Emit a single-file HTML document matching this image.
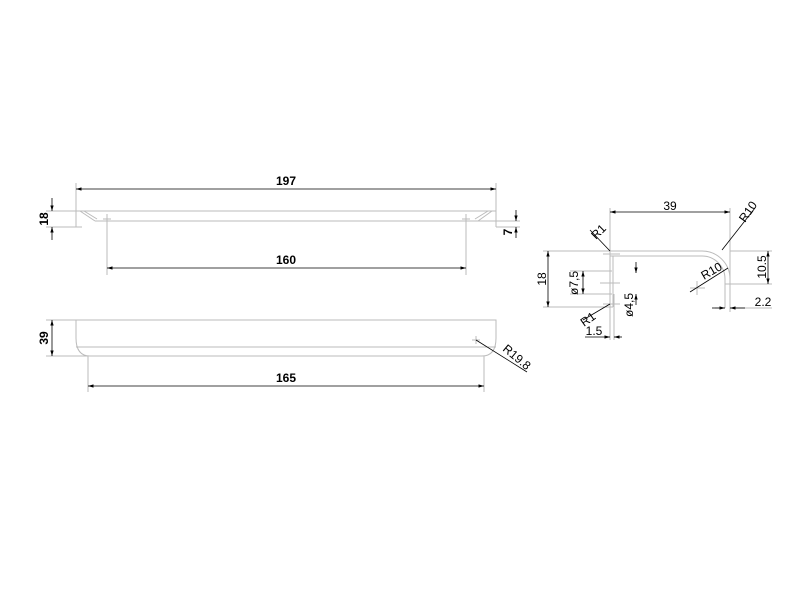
<!DOCTYPE html>
<html><head><style>body{margin:0;background:#fff}svg{display:block}text{font-family:"Liberation Sans",sans-serif;font-size:12px;fill:#000;font-weight:bold}</style></head><body>
<svg width="800" height="600" viewBox="0 0 800 600" xmlns="http://www.w3.org/2000/svg">
<defs><marker id="a" viewBox="0 0 10 10" refX="10" refY="5" markerWidth="7" markerHeight="7" orient="auto-start-reverse"><path d="M0,2 L10,5 L0,8z" fill="#000"/></marker></defs>
<g stroke="#bbb" stroke-width="1" fill="none">
<!-- top view -->
<line x1="76" y1="211" x2="496" y2="211"/>
<line x1="95" y1="221" x2="480" y2="221"/>
<line x1="76" y1="227" x2="82" y2="227"/>
<line x1="496" y1="227" x2="520" y2="227"/>
<line x1="480" y1="221" x2="520" y2="221"/>
<line x1="80" y1="211" x2="95" y2="221"/><line x1="84" y1="211" x2="97" y2="219"/>
<line x1="492" y1="211" x2="478" y2="221"/><line x1="488" y1="211" x2="475" y2="219"/>
<line x1="76" y1="183" x2="76" y2="227"/><line x1="496" y1="183" x2="496" y2="227"/>
<line x1="107" y1="214" x2="107" y2="275"/><line x1="466" y1="214" x2="466" y2="275"/>
<line x1="103" y1="219" x2="111" y2="219"/><line x1="462" y1="219" x2="470" y2="219"/>
<line x1="46" y1="211" x2="76" y2="211"/><line x1="46" y1="227" x2="76" y2="227"/>
<!-- front view -->
<path d="M76,320 L76,338 Q76,356 90,356 L482,356 Q496,356 496,338 L496,320 Z"/>
<line x1="76" y1="347" x2="496" y2="347"/>
<line x1="46" y1="320" x2="76" y2="320"/><line x1="46" y1="356" x2="88" y2="356"/>
<line x1="88" y1="356" x2="88" y2="392"/><line x1="484" y1="356" x2="484" y2="392"/>
<line x1="472" y1="340" x2="480" y2="340"/><line x1="476" y1="336" x2="476" y2="344"/>
<!-- profile -->
<path d="M610,251 L702,251 A28,28 0 0 1 730,279 L730,284 L725,284 L725,308 M610,256 L702,256 A23,23 0 0 1 725,279 L725,284"/>
<line x1="610" y1="251" x2="610" y2="340"/><line x1="613" y1="256" x2="613" y2="307"/>
<line x1="543" y1="251" x2="610" y2="251"/><line x1="543" y1="307" x2="613" y2="307"/>
<line x1="570" y1="271" x2="612" y2="271"/><line x1="570" y1="294" x2="612" y2="294"/>
<line x1="600" y1="283" x2="620" y2="283"/>
<line x1="614" y1="294" x2="614" y2="340"/><line x1="730" y1="208" x2="730" y2="312"/>
<line x1="730" y1="251" x2="772" y2="251"/><line x1="730" y1="284" x2="772" y2="284"/>
<line x1="730" y1="308" x2="772" y2="308"/><line x1="715" y1="308" x2="725" y2="308"/>
<line x1="610" y1="208" x2="610" y2="251"/>
<line x1="603" y1="254" x2="620" y2="254"/><line x1="603" y1="304" x2="620" y2="304"/>
<line x1="690" y1="288" x2="705" y2="288"/><line x1="697" y1="281" x2="697" y2="295"/>
</g>
<g stroke="#000" stroke-width="0.8" fill="none">
<line x1="76" y1="189" x2="496" y2="189" marker-start="url(#a)" marker-end="url(#a)"/>
<line x1="107" y1="268" x2="466" y2="268" marker-start="url(#a)" marker-end="url(#a)"/>
<line x1="52" y1="198" x2="52" y2="211" marker-end="url(#a)"/><line x1="52" y1="240" x2="52" y2="227" marker-end="url(#a)"/>
<line x1="516" y1="210" x2="516" y2="221" marker-end="url(#a)"/><line x1="516" y1="238" x2="516" y2="227" marker-end="url(#a)"/>
<line x1="52" y1="320" x2="52" y2="356" marker-start="url(#a)" marker-end="url(#a)"/>
<line x1="88" y1="386" x2="484" y2="386" marker-start="url(#a)" marker-end="url(#a)"/>
<line x1="476" y1="340" x2="527" y2="372"/>
<line x1="610" y1="212" x2="730" y2="212" marker-start="url(#a)" marker-end="url(#a)"/>
<line x1="548" y1="251" x2="548" y2="307" marker-start="url(#a)" marker-end="url(#a)"/>
<line x1="583" y1="271" x2="583" y2="294" marker-start="url(#a)" marker-end="url(#a)"/>
<line x1="636" y1="262" x2="636" y2="273" marker-end="url(#a)"/><line x1="636" y1="305" x2="636" y2="294" marker-end="url(#a)"/>
<line x1="768" y1="251" x2="768" y2="284" marker-start="url(#a)" marker-end="url(#a)"/>
<line x1="712" y1="308" x2="725" y2="308" marker-end="url(#a)"/><line x1="745" y1="308" x2="730" y2="308" marker-end="url(#a)"/>
<line x1="585" y1="337" x2="610" y2="337" marker-end="url(#a)"/><line x1="622" y1="337" x2="614" y2="337" marker-end="url(#a)"/>
<line x1="590" y1="230" x2="610" y2="251"/><line x1="583" y1="320" x2="610" y2="304"/>
<line x1="722" y1="250" x2="755" y2="208"/><line x1="690" y1="292" x2="728" y2="268"/>
</g>
<text x="286" y="185" text-anchor="middle">197</text>
<text x="286" y="264" text-anchor="middle">160</text>
<text x="286" y="382" text-anchor="middle">165</text>
<text transform="translate(48,219) rotate(-90)" text-anchor="middle">18</text>
<text transform="translate(512,232) rotate(-90)" text-anchor="middle">7</text>
<text transform="translate(48,338) rotate(-90)" text-anchor="middle">39</text>
<text transform="translate(502,350) rotate(40)" style="font-weight:normal">R19.8</text>
<text x="670" y="210" text-anchor="middle" style="font-weight:normal">39</text>
<text transform="translate(596,240) rotate(-45)" style="font-weight:normal">R1</text>
<text transform="translate(584,327) rotate(-35)" style="font-weight:normal">R1</text>
<text transform="translate(745,223) rotate(-55)" style="font-weight:normal">R10</text>
<text transform="translate(704,280) rotate(-30)" style="font-weight:normal">R10</text>
<text transform="translate(546,279) rotate(-90)" text-anchor="middle" style="font-weight:normal">18</text>
<text transform="translate(578,283) rotate(-90)" text-anchor="middle" style="font-weight:normal">ø7,5</text>
<text transform="translate(633,305) rotate(-90)" text-anchor="middle" style="font-weight:normal">ø4,5</text>
<text transform="translate(766,267) rotate(-90)" text-anchor="middle" style="font-weight:normal">10.5</text>
<text x="763" y="306" text-anchor="middle" style="font-weight:normal">2.2</text>
<text x="594" y="335" text-anchor="middle" style="font-weight:normal">1.5</text>
</svg>
</body></html>
